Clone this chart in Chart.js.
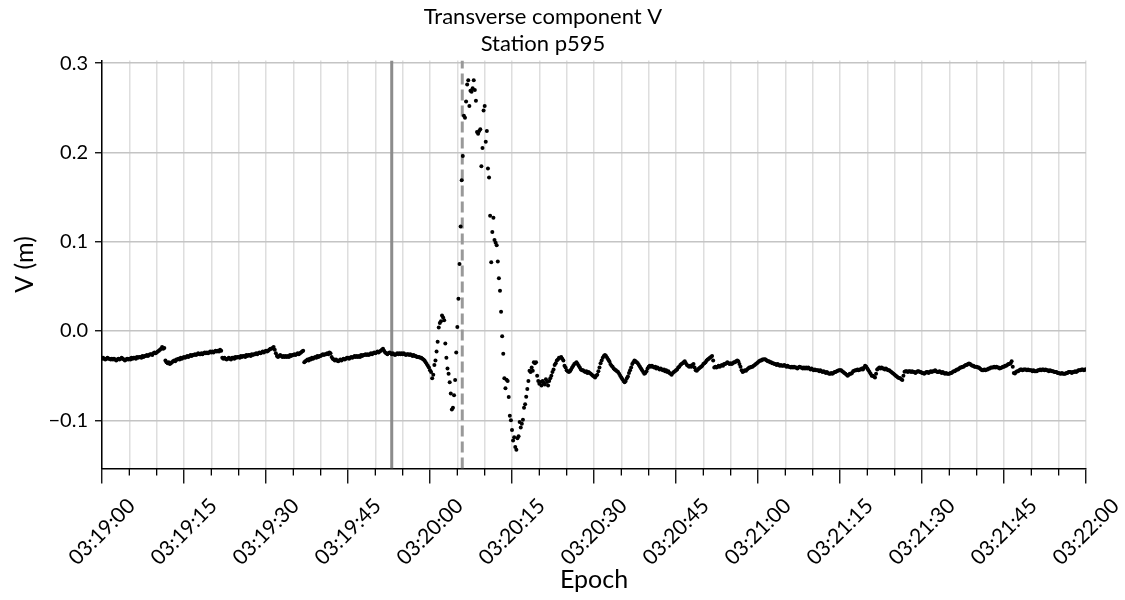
<!DOCTYPE html>
<html>
<head>
<meta charset="utf-8">
<title>Transverse component V – Station p595</title>
<script src="https://cdn.jsdelivr.net/npm/chart.js@4.4.1/dist/chart.umd.min.js"></script>
<style>
  html, body { margin: 0; padding: 0; background: #ffffff; }
  #wrap { width: 1125px; height: 600px; }
</style>
</head>
<body>
<div id="wrap"><canvas id="chart" width="1125" height="600"></canvas></div>
<script>
// Transverse displacement V at station p595, 5 Hz samples starting 03:19:00.
// One row per second (five samples), values in millimetres.
const sampleInterval = 0.2; // seconds
const transverseMm = [
  -31,-30,-31,-32,-31,
  -30,-31,-31,-32,-31,
  -32,-31,-32,-33,-32,
  -31,-32,-31,-30,-31,
  -32,-33,-32,-31,-32,
  -31,-32,-30,-31,-30,
  -30,-31,-29,-30,-29,
  -29,-30,-28,-29,-28,
  -28,-27,-28,-27,-26,
  -26,-27,-25,-24,-25,
  -24,-23,-22,-21,-20,
  -18,-20,-19,-33,-35,
  -36,-35,-37,-36,-35,
  -34,-33,-34,-32,-32,
  -31,-32,-30,-31,-30,
  -29,-30,-29,-28,-29,
  -28,-27,-28,-27,-27,
  -26,-27,-26,-25,-26,
  -26,-25,-26,-25,-24,
  -25,-24,-25,-24,-23,
  -24,-23,-24,-23,-22,
  -23,-22,-23,-21,-22,
  -30,-31,-30,-31,-32,
  -31,-30,-31,-32,-30,
  -30,-31,-29,-30,-29,
  -29,-30,-28,-29,-28,
  -28,-29,-27,-28,-27,
  -27,-28,-26,-27,-26,
  -26,-25,-26,-25,-24,
  -25,-24,-23,-24,-23,
  -22,-23,-22,-21,-20,
  -20,-19,-18,-21,-25,
  -28,-29,-28,-27,-28,
  -29,-28,-29,-28,-29,
  -28,-29,-27,-28,-27,
  -27,-26,-27,-26,-25,
  -26,-25,-24,-23,-22,
  -35,-34,-33,-32,-33,
  -31,-32,-30,-31,-30,
  -29,-30,-28,-29,-28,
  -28,-27,-26,-27,-26,
  -26,-25,-26,-24,-25,
  -29,-31,-32,-33,-32,
  -33,-34,-33,-32,-33,
  -32,-31,-32,-31,-30,
  -30,-31,-30,-29,-30,
  -29,-28,-29,-28,-29,
  -28,-29,-27,-28,-27,
  -27,-26,-27,-26,-27,
  -26,-25,-26,-25,-24,
  -25,-24,-23,-24,-23,
  -22,-21,-20,-22,-24,
  -25,-26,-25,-24,-25,
  -26,-25,-26,-27,-26,
  -25,-26,-25,-26,-25,
  -26,-25,-26,-27,-26,
  -26,-27,-26,-27,-28,
  -27,-28,-28,-29,-29,
  -29,-30,-30,-31,-32,
  -33,-35,-37,-39,-41,
  -44,-46,-53,-49,-38,
  -33,-23,-12,4,9,
  11,17.5,15,12,-14,
  -30,-42,-48,-57.5,-70,
  -88,-86,-72,-55,-24,
  4.5,36,75,117,169,
  196,241,239,257,276,
  281,252,269,268,272,
  281,270,258,223,221,
  224,226,184.5,205,247,
  252,212,224,182,172,
  129,77,111,127,102,
  99,96,78,59,45,
  21.5,-6,-25.5,-53,-64,
  -54.5,-56,-74,-95,-100,
  -111,-122.5,-119,-130,-133,
  -120,-118,-102,-108,-104,
  -99.5,-86,-82,-73.5,-65,
  -56,-44.5,-46,-41,-44.5,
  -35,-36,-35,-50,-56,
  -59,-57,-61,-56,-58,
  -60,-54,-57,-61,-56,
  -53,-50,-46,-43,-38,
  -36,-33,-32,-30,-30,
  -29,-31,-33,-39,-41,
  -44,-45,-46,-45,-43,
  -41,-39,-37,-36,-35,
  -37,-39,-41,-43,-44,
  -44,-45,-46,-45,-47,
  -46,-47,-48,-49,-50,
  -51,-52,-50,-49,-45,
  -41,-36,-33,-30,-28,
  -27,-28,-30,-32,-34,
  -37,-39,-40,-42,-43,
  -44,-45,-46,-48,-50,
  -52,-54,-56,-57.5,-56,
  -53,-51,-47,-44,-41,
  -37,-35,-33,-34,-35,
  -36,-38,-40,-42,-44,
  -46,-48,-47,-45,-42,
  -40,-39,-40,-39,-40,
  -41,-40,-42,-41,-42,
  -43,-42,-43,-44,-43,
  -45,-44,-46,-45,-47,
  -48,-49,-47,-46,-45,
  -44,-43,-41,-40,-38,
  -37,-36,-35,-34,-36,
  -38,-39,-40,-39,-40,
  -38,-37,-41,-44,-44.5,
  -43,-42,-41,-40,-39,
  -37,-36,-35,-33,-32,
  -31,-30,-29,-28,-33,
  -41,-40,-41,-40,-39,
  -40,-39,-38,-39,-37,
  -37,-36,-35,-36,-37,
  -36,-37,-36,-35,-35,
  -34,-33,-34,-37,-40,
  -44,-46,-45,-44,-44.5,
  -43,-42,-41,-41,-40,
  -40,-39,-38,-37,-36,
  -35,-34,-33,-33,-32,
  -32,-31.5,-32,-33,-34,
  -34,-35,-35,-36,-36,
  -37,-37,-38,-37,-38,
  -39,-38,-39,-39,-38,
  -39,-40,-39,-40,-40,
  -41,-40,-41,-40,-41,
  -41,-42,-41,-40,-41,
  -41,-42,-41,-42,-41,
  -42,-41,-42,-43,-42,
  -43,-44,-43,-44,-44,
  -44,-45,-44,-45,-46,
  -45,-46,-47,-46,-47,
  -48,-48,-47,-48,-47,
  -46,-46,-45,-44.5,-44,
  -44,-44,-45,-46,-47,
  -48,-49,-50,-49,-48,
  -48,-47,-45,-44.5,-44,
  -44,-43,-44,-43,-43,
  -42,-43,-41,-39,-40,
  -42,-44,-46,-48,-50,
  -50,-51,-52,-48,-43,
  -42,-41,-42,-41,-42,
  -42,-43,-42,-43,-44,
  -44,-45,-46,-47,-48,
  -49,-50,-51,-52,-52.5,
  -53,-54,-55,-50,-45.5,
  -45,-45,-46,-45,-45,
  -46,-45,-46,-46,-47,
  -46,-45,-45,-46,-46,
  -47,-47,-48,-47,-46,
  -46,-47,-46,-45,-46,
  -45,-45,-44,-45,-46,
  -46,-45,-46,-47,-46,
  -47,-48,-47,-48,-48,
  -48,-47,-47,-46,-45,
  -45,-44,-43,-43,-42,
  -41,-41,-40,-40,-39,
  -38,-38,-37,-36.5,-37,
  -38,-39,-39,-40,-40,
  -40,-41,-41,-42,-43,
  -44,-44,-43,-44,-43,
  -43,-42,-42,-41,-41,
  -41,-40,-41,-40,-41,
  -41,-42,-41.5,-41,-40,
  -40,-39,-39,-38,-37,
  -37,-36,-34,-40,-47,
  -47.5,-46,-45,-45,-44,
  -43,-43,-44,-43,-43,
  -43,-44,-43,-44,-44,
  -44,-45,-44,-45,-45,
  -45,-44,-44,-43,-44,
  -43,-43,-44,-43,-44,
  -44,-45,-44,-44.5,-45,
  -45,-46,-46,-46,-47,
  -47,-47.5,-48,-47,-48,
  -48,-48,-47,-47,-46,
  -46,-46,-47,-46,-46,
  -45,-46,-45,-44,-44,
  -44,-43,-43,-44,-43,
  -43
];

// Marker times (seconds after 03:19:00)
const solidMarkerTime = 53.0;
const dashedMarkerTime = 65.9;

// Axis ranges and tick labels
const xRange = [0, 180];
const yRange = [-0.154, 0.303];
const majorStep = 15;   // labelled ticks every 15 s
const minorStep = 5;    // grid / minor ticks every 5 s
const xTickLabels = ['03:19:00', '03:19:15', '03:19:30', '03:19:45', '03:20:00', '03:20:15',
                     '03:20:30', '03:20:45', '03:21:00', '03:21:15', '03:21:30', '03:21:45', '03:22:00'];
const yTickValues = [-0.1, 0.0, 0.1, 0.2, 0.3];
const yTickLabels = ['\u22120.1', '0.0', '0.1', '0.2', '0.3'];

const FONT = 'Lato, "Open Sans", sans-serif';
const tickFontSize = 20;
const xTickFontSize = 21;
const minorTickLength = 7;

const points = transverseMm.map((mm, i) => ({ x: i * sampleInterval, y: mm / 1000 }));

// Shift rotated x labels so each label is centred on its tick
const measureCtx = document.createElement('canvas').getContext('2d');
measureCtx.font = xTickFontSize + 'px ' + FONT;
const xLabelWidth = measureCtx.measureText(xTickLabels[0]).width;
const xLabelShift = xLabelWidth * Math.SQRT1_2 / 2;

const minorTicksPlugin = {
  id: 'minorTicks',
  afterDraw(chart) {
    const xs = chart.scales.x;
    const { ctx, chartArea } = chart;
    ctx.save();
    ctx.strokeStyle = '#000';
    ctx.lineWidth = 1.3;
    ctx.beginPath();
    for (const t of xs.ticks) {
      if (t.value % majorStep === 0) continue;
      const px = xs.getPixelForValue(t.value);
      ctx.moveTo(px, chartArea.bottom);
      ctx.lineTo(px, chartArea.bottom + minorTickLength);
    }
    ctx.stroke();
    ctx.restore();
  }
};

Chart.defaults.font.family = FONT;
Chart.defaults.color = '#000';

new Chart(document.getElementById('chart'), {
  type: 'scatter',
  data: {
    datasets: [
      {
        label: 'V',
        data: points,
        order: 0,
        pointRadius: 2,
        pointBorderWidth: 0,
        pointBackgroundColor: '#000',
        pointBorderColor: '#000',
        showLine: false
      },
      {
        type: 'line',
        label: 'marker',
        data: [{ x: solidMarkerTime, y: yRange[0] }, { x: solidMarkerTime, y: yRange[1] }],
        order: 1,
        borderColor: '#8c8c8c',
        borderWidth: 3,
        pointRadius: 0,
        fill: false
      },
      {
        type: 'line',
        label: 'marker dashed',
        data: [{ x: dashedMarkerTime, y: yRange[0] }, { x: dashedMarkerTime, y: yRange[1] }],
        order: 1,
        borderColor: '#999999',
        borderWidth: 3,
        borderDash: [11, 5],
        pointRadius: 0,
        fill: false
      }
    ]
  },
  options: {
    responsive: false,
    animation: false,
    events: [],
    layout: { padding: { left: 0, right: 39, top: 0, bottom: 0 } },
    plugins: {
      legend: { display: false },
      tooltip: { enabled: false },
      title: {
        display: true,
        text: ['Transverse component V', 'Station p595'],
        color: '#000',
        font: { family: FONT, size: 22, weight: 'normal', lineHeight: 1.25 },
        padding: { top: 3, bottom: 2.5 }
      }
    },
    scales: {
      x: {
        type: 'linear',
        min: xRange[0],
        max: xRange[1],
        afterBuildTicks(scale) {
          const ticks = [];
          for (let v = xRange[0]; v <= xRange[1]; v += minorStep) ticks.push({ value: v });
          scale.ticks = ticks;
        },
        afterFit(scale) { scale.height = 131.5; },
        ticks: {
          autoSkip: false,
          minRotation: 45,
          maxRotation: 45,
          padding: 10,
          labelOffset: xLabelShift,
          font: { size: xTickFontSize },
          callback: (value) => (value % majorStep === 0 ? xTickLabels[value / majorStep] : '')
        },
        grid: {
          color: '#dedede',
          lineWidth: 1.5,
          drawTicks: true,
          tickLength: 15,
          tickWidth: 1.3,
          tickColor: (ctx) => (ctx.tick && ctx.tick.value % majorStep === 0 ? '#000' : 'rgba(0,0,0,0)')
        },
        border: { display: true, color: '#000', width: 1.5 },
        title: {
          display: true,
          text: 'Epoch',
          font: { size: 25, lineHeight: 1.2 },
          padding: { top: 0, bottom: 5 }
        }
      },
      y: {
        min: yRange[0],
        max: yRange[1],
        afterBuildTicks(scale) {
          scale.ticks = yTickValues.map((v) => ({ value: v }));
        },
        afterFit(scale) { scale.width = 102; },
        ticks: {
          padding: 7,
          font: { size: tickFontSize },
          callback: (value, index) => yTickLabels[index]
        },
        grid: {
          color: '#c4c4c4',
          lineWidth: 1.5,
          tickLength: 7,
          tickWidth: 1.3,
          tickColor: '#000'
        },
        border: { display: true, color: '#000', width: 1.5 },
        title: {
          display: true,
          text: 'V (m)',
          font: { size: 25, lineHeight: 1.2 },
          padding: { top: 10, bottom: 0 }
        }
      }
    }
  },
  plugins: [minorTicksPlugin]
});
</script>
</body>
</html>
